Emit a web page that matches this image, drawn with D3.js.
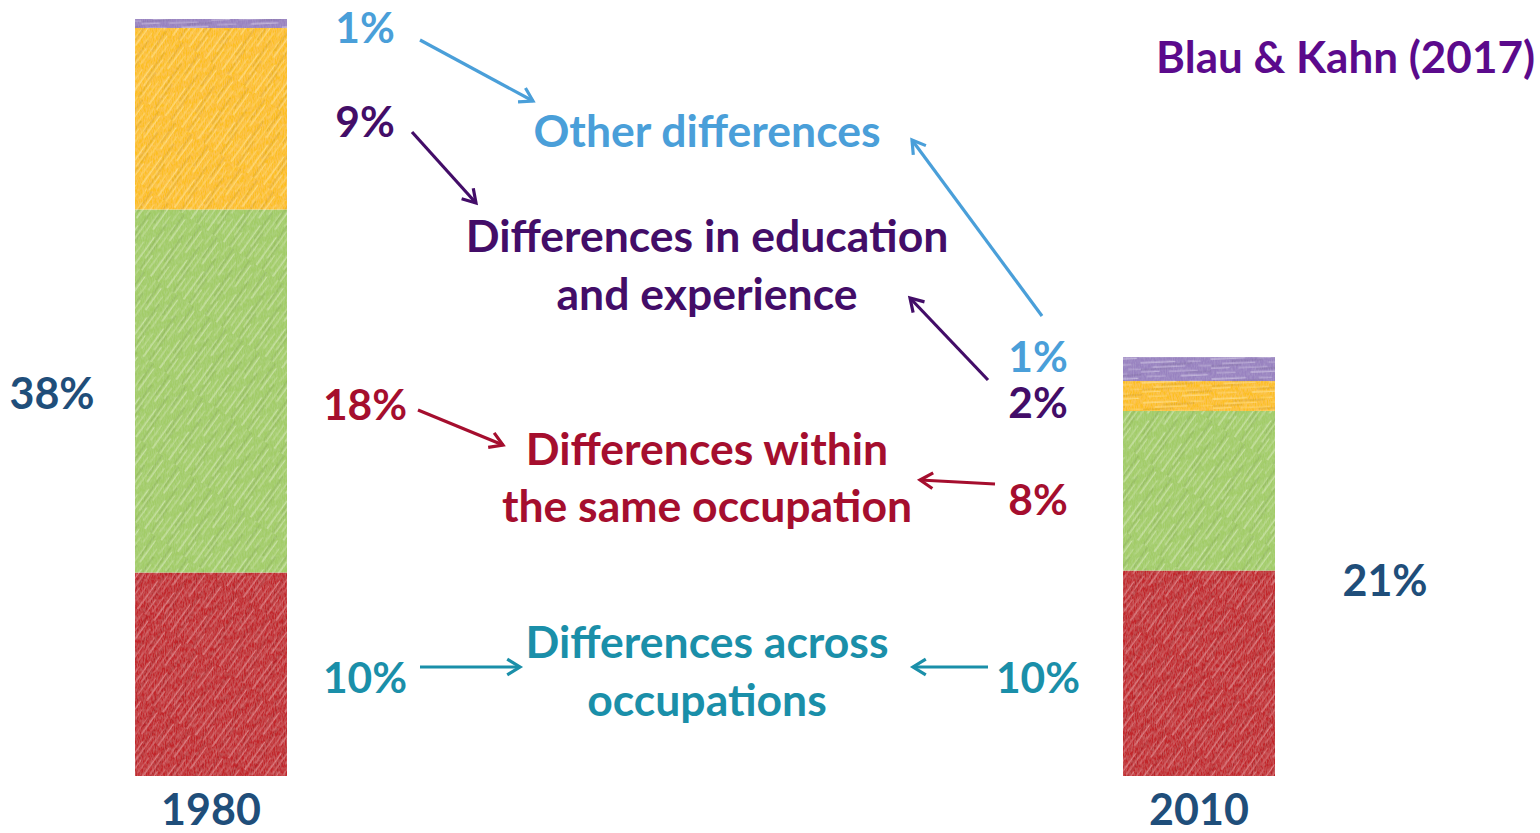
<!DOCTYPE html>
<html><head><meta charset="utf-8">
<script src="https://cdn.jsdelivr.net/npm/d3@7/dist/d3.min.js"></script>
<style>
html,body{margin:0;padding:0;background:#fff;}
svg text{font-family:"Lato","Open Sans",sans-serif;font-weight:700;}
</style></head>
<body><svg id="c" width="1540" height="833"></svg>
<script>
// ---------- data ----------
const years = ["1980", "2010"];
const components = ["occupations", "within", "education", "other"];
const values1980 = [10.2, 18.2, 9.1, 0.45];
const values2010 = [10.3, 8.0, 1.5, 1.2];
const labels1980 = ["10%", "18%", "9%", "1%"];
const labels2010 = ["10%", "8%", "2%", "1%"];
const totals = ["38%", "21%"];
const componentNames = [
  ["Differences across", "occupations"],
  ["Differences within", "the same occupation"],
  ["Differences in education", "and experience"],
  ["Other differences"]
];
const source = "Blau & Kahn (2017)";

// ---------- styles ----------
const fillColors = ["#c1262c", "#a2cc67", "#fcbf24", "#9882c0"];
const textColors = ["#1a8fa9", "#a50e2e", "#430d68", "#4a9fd9"];
const navy = "#1f4e7a";

const svg = d3.select("#c");
const defs = svg.append("defs");

// crayon-like hatching patterns
const strokes = [
  [0, 2, 34, 0.4], [48, 3, 60, 0.25], [12, 7, 44, 0.3], [58, 8, 70, 0.2],
  [-5, 11, 18, 0.35], [28, 12, 56, 0.25], [6, 16, 24, 0.25], [40, 17, 66, 0.4]
];
const darkStrokes = [[20, 5, 52, 0.06], [0, 9, 30, 0.05], [45, 14, 70, 0.06]];
function makePattern(id, color, angle) {
  const p = defs.append("pattern").attr("id", id)
    .attr("patternUnits", "userSpaceOnUse").attr("width", 70).attr("height", 20)
    .attr("patternTransform", `rotate(${angle})`);
  p.append("rect").attr("width", 70).attr("height", 20).attr("fill", color);
  p.selectAll("line.d").data(darkStrokes).join("line").attr("class", "d")
    .attr("x1", d => d[0]).attr("x2", d => d[2]).attr("y1", d => d[1]).attr("y2", d => d[1])
    .attr("stroke", "#000").attr("stroke-opacity", d => d[3]).attr("stroke-width", 2);
  p.selectAll("line.w").data(strokes).join("line").attr("class", "w")
    .attr("x1", d => d[0]).attr("x2", d => d[2]).attr("y1", d => d[1]).attr("y2", d => d[1] + 0.4)
    .attr("stroke", "#fff").attr("stroke-opacity", d => d[3]).attr("stroke-width", 1.3)
    .attr("stroke-linecap", "round");
}
fillColors.forEach((c, i) => { makePattern("pd" + i, c, -55); makePattern("ph" + i, c, -3); });

const flt = defs.append("filter").attr("id", "grain").attr("x", 0).attr("y", 0).attr("width", 1).attr("height", 1);
flt.append("feTurbulence").attr("type", "fractalNoise").attr("baseFrequency", "0.9 0.25").attr("numOctaves", 2).attr("seed", 3).attr("result", "n");
flt.append("feColorMatrix").attr("in", "n").attr("type", "matrix")
  .attr("values", "0 0 0 0 1  0 0 0 0 1  0 0 0 0 1  0 0 0 0.18 -0.06").attr("result", "w");
flt.append("feComposite").attr("in", "w").attr("in2", "SourceGraphic").attr("operator", "atop");

// ---------- scales ----------
const x = d3.scalePoint().domain(years).range([211, 1199]);
const barW = 152;
const y = d3.scaleLinear().domain([0, 38]).range([776, 18]);

const seriesByYear = { "1980": values1980, "2010": values2010 };
const rows = years.map(yr => {
  const o = { year: yr };
  components.forEach((c, i) => o[c] = seriesByYear[yr][i]);
  return o;
});
const stack = d3.stack().keys(components)(rows);

const g = svg.append("g");
stack.forEach((layer, i) => {
  g.selectAll(null).data(layer).join("rect")
    .attr("x", d => x(d.data.year) - barW / 2)
    .attr("width", barW)
    .attr("y", d => y(d[1]))
    .attr("height", d => y(d[0]) - y(d[1]))
    .attr("fill", d => `url(#${(y(d[0]) - y(d[1])) < 40 ? "ph" : "pd"}${i})`)
    .attr("filter", "url(#grain)");
});

// year labels
svg.selectAll(".yr").data(years).join("text")
  .attr("x", d => x(d)).attr("y", 825).attr("text-anchor", "middle")
  .attr("font-size", 43).attr("fill", navy).text(d => d);

// totals
svg.append("text").attr("x", 52).attr("y", 409).attr("text-anchor", "middle")
  .attr("font-size", 43).attr("fill", navy).text(totals[0]);
svg.append("text").attr("x", 1385).attr("y", 596).attr("text-anchor", "middle")
  .attr("font-size", 43).attr("fill", navy).text(totals[1]);

// source
svg.append("text").attr("x", 1535).attr("y", 73).attr("text-anchor", "end")
  .attr("font-size", 44).attr("fill", "#5b0a8c").text(source);

// component labels (centre column)
const nameBaselines = [[658, 716], [465, 522], [252, 310], [147]];
const nameX = 707;
componentNames.forEach((lines, i) => {
  lines.forEach((t, j) => {
    svg.append("text").attr("x", nameX).attr("y", nameBaselines[i][j])
      .attr("text-anchor", "middle").attr("font-size", 44.5).attr("fill", textColors[i]).text(t);
  });
});

// value labels
const leftLabelY = [693, 420, 137, 43];
const rightLabelY = [693, 515, 418, 372];
labels1980.forEach((t, i) => {
  svg.append("text").attr("x", 365).attr("y", leftLabelY[i]).attr("text-anchor", "middle")
    .attr("font-size", 42.5).attr("fill", textColors[i]).text(t);
});
labels2010.forEach((t, i) => {
  svg.append("text").attr("x", 1038).attr("y", rightLabelY[i]).attr("text-anchor", "middle")
    .attr("font-size", 42.5).attr("fill", textColors[i]).text(t);
});

// arrows
const leftArrows = [[420, 667, 520, 667], [418, 410, 503, 445], [412, 132, 476, 203], [420, 40, 533, 101]];
const rightArrows = [[988, 667, 913, 667], [995, 484, 920, 480], [988, 380, 910, 298], [1042, 316, 912, 140]];
function arrow(a, color) {
  const [x1, y1, x2, y2] = a;
  const ang = Math.atan2(y2 - y1, x2 - x1);
  const L = 15, spread = 0.55;
  const p1 = [x2 - L * Math.cos(ang - spread), y2 - L * Math.sin(ang - spread)];
  const p2 = [x2 - L * Math.cos(ang + spread), y2 - L * Math.sin(ang + spread)];
  svg.append("line").attr("x1", x1).attr("y1", y1).attr("x2", x2).attr("y2", y2)
    .attr("stroke", color).attr("stroke-width", 3.2);
  svg.append("path").attr("d", `M${p1}L${x2},${y2}L${p2}`).attr("fill", "none")
    .attr("stroke", color).attr("stroke-width", 3.2).attr("stroke-linejoin", "miter");
}
leftArrows.forEach((a, i) => arrow(a, textColors[i]));
rightArrows.forEach((a, i) => arrow(a, textColors[i]));
</script></body></html>
